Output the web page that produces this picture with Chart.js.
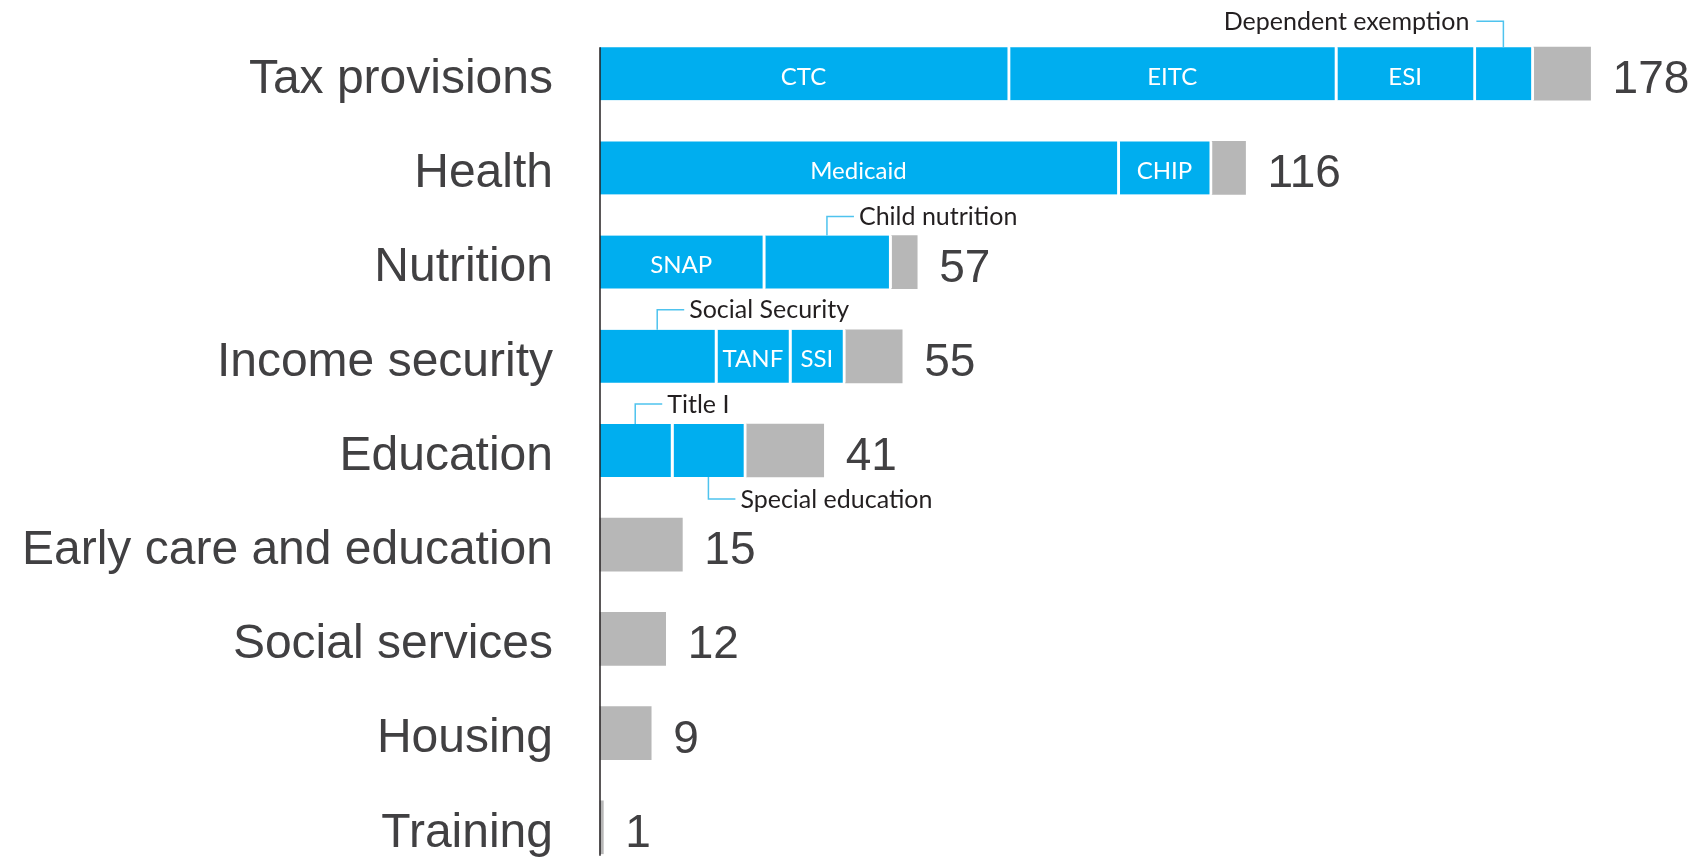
<!DOCTYPE html>
<html>
<head>
<meta charset="utf-8">
<script src="https://cdn.jsdelivr.net/npm/chart.js@4.4.1/dist/chart.umd.min.js"></script>
<style>
  html, body { margin: 0; padding: 0; background: #fff; }
  #wrap { width: 1703px; height: 857px; }
</style>
</head>
<body>
<div id="wrap"><canvas id="kidsChart" width="1703" height="857"></canvas></div>
<script>
// values (billions)
var categories = ['Tax provisions', 'Health', 'Nutrition', 'Income security', 'Education',
    'Early care and education', 'Social services', 'Housing', 'Training'];
var totals = [178, 116, 57, 55, 41, 15, 12, 9, 1];

var part1 = [73.7, 93.4, 29.7, 21.1, 13.2, null, null, null, null];
var part2 = [58.8, 16.6, 22.7, 13.3, 13.1, null, null, null, null];
var part3 = [24.9, null, null, 9.7, null, null, null, null, null];
var part4 = [10.4, null, null, null, null, null, null, null, null];
var otherSpending = [10.2, 6.0, 4.6, 10.2, 13.9, 14.8, 11.8, 9.2, 0.6];

var part1Names = ['CTC', 'Medicaid', 'SNAP', 'Social Security', 'Title I', '', '', '', ''];
var part2Names = ['EITC', 'CHIP', 'Child nutrition', 'TANF', 'Special education', '', '', '', ''];
var part3Names = ['ESI', '', '', 'SSI', '', '', '', '', ''];
var part4Names = ['Dependent exemption', '', '', '', '', '', '', '', ''];

var BLUE = '#00aeef';
var GREY = '#b7b7b7';
var TEXT = '#414042';
var GAP = 3;

// labels that sit outside their segment with a little elbow line
var callouts = {
    'Dependent exemption': { side: 'top', textSide: 'left', rise: 26 },
    'Child nutrition': { side: 'top', textSide: 'right', rise: 19 },
    'Social Security': { side: 'top', textSide: 'right', rise: 20 },
    'Title I': { side: 'top', textSide: 'right', rise: 20 },
    'Special education': { side: 'bottom', textSide: 'right', rise: 22 }
};

var blueSet = function (values) {
    return {
        data: values,
        backgroundColor: BLUE,
        borderColor: '#ffffff',
        borderWidth: { top: 0, right: GAP, bottom: 0, left: 0 },
        borderSkipped: false,
        barThickness: 53,
        clip: false
    };
};

var barNotes = {
    id: 'barNotes',
    afterDatasetsDraw: function (chart) {
        var ctx = chart.ctx;
        var names = [part1Names, part2Names, part3Names, part4Names];
        var otherMeta = chart.getDatasetMeta(4);
        ctx.save();

        // axis line only as tall as the bars
        var firstBar = otherMeta.data[0];
        var lastBar = otherMeta.data[categories.length - 1];
        ctx.strokeStyle = '#231f20';
        ctx.lineWidth = 1.5;
        ctx.beginPath();
        ctx.moveTo(chart.chartArea.left, firstBar.y - firstBar.height / 2);
        ctx.lineTo(chart.chartArea.left, lastBar.y + lastBar.height / 2 + 2);
        ctx.stroke();

        // segment names
        for (var s = 0; s < names.length; s++) {
            var meta = chart.getDatasetMeta(s);
            for (var i = 0; i < categories.length; i++) {
                var name = names[s][i];
                if (!name) continue;
                var el = meta.data[i];
                var cx = (el.base + el.x - GAP) / 2;
                var note = callouts[name];
                if (!note) {
                    ctx.font = '24px Lato';
                    ctx.fillStyle = '#ffffff';
                    ctx.textAlign = 'center';
                    ctx.textBaseline = 'alphabetic';
                    ctx.fillText(name, cx, el.y + 0.36 * 22 + 3);
                    continue;
                }
                var edgeY = note.side === 'top' ? el.y - el.height / 2 : el.y + el.height / 2;
                var lineY = note.side === 'top' ? edgeY - note.rise : edgeY + note.rise;
                var armEnd = note.textSide === 'right' ? cx + 27 : cx - 27;
                ctx.strokeStyle = '#4fc3ee';
                ctx.lineWidth = 1.5;
                ctx.beginPath();
                ctx.moveTo(cx, edgeY);
                ctx.lineTo(cx, lineY);
                ctx.lineTo(armEnd, lineY);
                ctx.stroke();
                ctx.font = '25px Lato';
                ctx.fillStyle = '#231f20';
                ctx.textBaseline = 'alphabetic';
                if (note.textSide === 'right') {
                    ctx.textAlign = 'left';
                    ctx.fillText(name, armEnd + 5, lineY + 0.36 * 24);
                } else {
                    ctx.textAlign = 'right';
                    ctx.fillText(name, armEnd - 7, lineY + 0.36 * 24);
                }
            }
        }

        // totals at the end of each bar
        ctx.font = '46px "Liberation Sans", Arial, sans-serif';
        ctx.fillStyle = TEXT;
        ctx.textAlign = 'left';
        ctx.textBaseline = 'alphabetic';
        otherMeta.data.forEach(function (el, i) {
            ctx.fillText(String(totals[i]), el.x + 22, el.y + 19.5);
        });
        ctx.restore();
    }
};

var chart = new Chart(document.getElementById('kidsChart'), {
    type: 'bar',
    data: {
        labels: categories,
        datasets: [
            blueSet(part1),
            blueSet(part2),
            blueSet(part3),
            blueSet(part4),
            {
                data: otherSpending,
                backgroundColor: GREY,
                borderWidth: 0,
                barThickness: 53,
                clip: false
            }
        ]
    },
    options: {
        indexAxis: 'y',
        responsive: false,
        devicePixelRatio: 1,
        animation: false,
        layout: { padding: { top: 73.7, bottom: 29.7, left: 0, right: 0 } },
        plugins: {
            legend: { display: false },
            tooltip: { enabled: false }
        },
        scales: {
            x: {
                stacked: true,
                min: 0,
                max: 198.2,
                display: false
            },
            y: {
                stacked: true,
                offset: false,
                grid: { display: false, drawTicks: false, tickLength: 0 },
                border: { display: false },
                ticks: {
                    autoSkip: false,
                    padding: 47,
                    labelOffset: 6,
                    color: TEXT,
                    font: { family: '"Liberation Sans", Arial, sans-serif', size: 48 }
                },
                afterFit: function (scale) {
                    scale.width = 600;
                    // the big tick padding would otherwise eat the top and bottom
                    scale.paddingTop = 0;
                    scale.paddingBottom = 0;
                }
            }
        }
    },
    plugins: [barNotes]
});
</script>
</body>
</html>
